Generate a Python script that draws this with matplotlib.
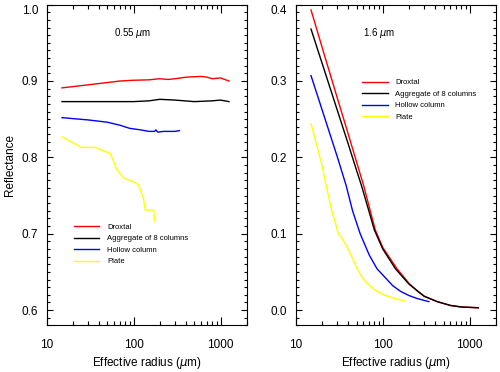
import matplotlib
matplotlib.use("Agg")
import matplotlib.pyplot as plt
from matplotlib.ticker import LogLocator, MultipleLocator, NullFormatter, FixedLocator

plt.rcParams['font.family'] = ['Liberation Sans', 'DejaVu Sans']

labels = ['Droxtal', 'Aggregate of 8 columns', 'Hollow column', 'Plate']
colors = ['red', 'black', 'blue', 'yellow']

# 0.55 um reflectance
r055_drox_x = [15, 30, 50, 70, 100, 150, 200, 250, 300, 400, 600, 700, 800, 1000, 1250]
r055_drox_y = [0.891, 0.895, 0.898, 0.900, 0.901, 0.9015, 0.903, 0.902, 0.903, 0.905, 0.906, 0.905, 0.903, 0.904, 0.900]
r055_agg_x = [15, 50, 100, 150, 200, 300, 500, 800, 1000, 1250]
r055_agg_y = [0.873, 0.873, 0.873, 0.874, 0.876, 0.875, 0.873, 0.874, 0.875, 0.873]
r055_hol_x = [15, 30, 50, 70, 90, 120, 150, 175, 180, 190, 220, 250, 300, 336]
r055_hol_y = [0.852, 0.849, 0.846, 0.842, 0.838, 0.836, 0.834, 0.834, 0.836, 0.833, 0.834, 0.834, 0.834, 0.835]
r055_pla_x = [15, 25, 36, 40, 54, 64, 77, 104, 114, 130, 136, 170, 174]
r055_pla_y = [0.827, 0.813, 0.813, 0.811, 0.805, 0.784, 0.773, 0.767, 0.764, 0.746, 0.731, 0.731, 0.716]

# 1.6 um reflectance
r16_drox_x = [15, 20, 30, 40, 50, 60, 70, 82, 100, 146, 200, 249, 300, 423, 600, 800, 1000, 1250]
r16_drox_y = [0.393, 0.345, 0.278, 0.231, 0.194, 0.164, 0.135, 0.105, 0.082, 0.054, 0.035, 0.025, 0.018, 0.011, 0.006, 0.004, 0.0035, 0.003]
r16_agg_x = [15, 20, 30, 40, 50, 57, 70, 80, 100, 140, 200, 300, 423, 600, 800, 1000, 1250]
r16_agg_y = [0.368, 0.324, 0.262, 0.218, 0.183, 0.163, 0.128, 0.105, 0.080, 0.054, 0.034, 0.018, 0.011, 0.006, 0.004, 0.0035, 0.003]
r16_hol_x = [15, 20, 30, 38, 45, 55, 70, 86, 100, 130, 160, 200, 250, 339]
r16_hol_y = [0.307, 0.263, 0.201, 0.163, 0.130, 0.100, 0.072, 0.054, 0.046, 0.032, 0.0245, 0.019, 0.015, 0.011]
r16_pla_x = [15, 18, 20, 22.4, 26, 31, 34, 37, 44, 51, 58, 66, 80, 102, 130, 178]
r16_pla_y = [0.244, 0.21, 0.19, 0.163, 0.13, 0.100, 0.094, 0.087, 0.070, 0.054, 0.043, 0.035, 0.027, 0.020, 0.016, 0.0117]

fig = plt.figure(figsize=(5, 3.72), dpi=100)
ax1 = fig.add_axes([0.0934, 0.1255, 0.400, 0.862])
ax2 = fig.add_axes([0.5914, 0.1255, 0.4006, 0.862])

panels = [
    (ax1, [(r055_drox_x, r055_drox_y), (r055_agg_x, r055_agg_y), (r055_hol_x, r055_hol_y), (r055_pla_x, r055_pla_y)],
     (0.58, 1.0), [0.6, 0.7, 0.8, 0.9, 1.0], r'0.55 $\mu$m', (0.115, 0.33)),
    (ax2, [(r16_drox_x, r16_drox_y), (r16_agg_x, r16_agg_y), (r16_hol_x, r16_hol_y), (r16_pla_x, r16_pla_y)],
     (-0.02, 0.4), [0.0, 0.1, 0.2, 0.3, 0.4], r'1.6 $\mu$m', (0.31, 0.78)),
]

for ax, series, ylim, yt, title, legpos in panels:
    for (x, y), c, lab in zip(series, colors, labels):
        ax.plot(x, y, color=c, lw=1.0, label=lab)
    ax.set_xscale('log')
    ax.set_xlim(10, 2000)
    ax.set_ylim(*ylim)
    ax.xaxis.set_major_locator(FixedLocator([10, 100, 1000]))
    ax.xaxis.set_minor_locator(LogLocator(base=10, subs=range(2, 10)))
    ax.xaxis.set_minor_formatter(NullFormatter())
    ax.set_xticklabels(['10', '100', '1000'])
    ax.set_yticks(yt)
    ax.set_yticklabels(['%.1f' % v for v in yt])
    ax.yaxis.set_minor_locator(MultipleLocator(0.01))
    ax.tick_params(which='both', direction='in', top=True, right=True, labelsize=8.5)
    ax.tick_params(axis='x', which='major', length=6, width=0.8, pad=10)
    ax.tick_params(axis='x', which='minor', length=3, width=0.8)
    ax.tick_params(axis='y', which='major', length=4, width=0.8, pad=6)
    ax.tick_params(axis='y', which='minor', length=2, width=0.8)
    for s in ax.spines.values():
        s.set_linewidth(0.8)
    ax.set_xlabel(r'Effective radius ($\mu$m)', fontsize=8.5, labelpad=3)
    ax.text(0.337, 0.911, title, transform=ax.transAxes, fontsize=7, ha='left', va='center')
    ax.legend(loc='upper left', bbox_to_anchor=legpos, frameon=False, fontsize=5.5,
              handlelength=3.4, handletextpad=1.0, labelspacing=0.55, borderpad=0)
    ax.get_yticklabels()[-1].set_va('top')

ax1.set_ylabel('Reflectance', fontsize=8.5, labelpad=4)

fig.savefig('out.png', dpi=100)
